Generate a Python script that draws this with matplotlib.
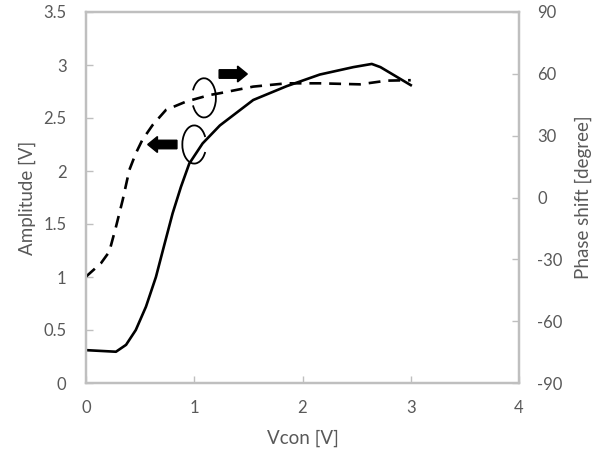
import matplotlib
matplotlib.use("Agg")
import matplotlib.pyplot as plt
from matplotlib.patches import Arc, FancyArrow

# Data
vcon_amp = [0.0, 0.277, 0.37, 0.46, 0.554, 0.646, 0.72, 0.80, 0.877, 0.954, 1.077, 1.237,
            1.545, 1.853, 2.16, 2.47, 2.64, 2.72, 3.0]
amplitude = [0.31, 0.295, 0.36, 0.50, 0.72, 1.00, 1.29, 1.60, 1.85, 2.07, 2.26, 2.43,
             2.67, 2.80, 2.91, 2.98, 3.01, 2.98, 2.81]
vcon_ph = [0.0, 0.138, 0.215, 0.277, 0.339, 0.40, 0.46, 0.52, 0.616, 0.739, 0.923, 1.14,
           1.237, 1.545, 1.853, 2.16, 2.53, 2.78, 3.0]
phase = [-38.4, -31.9, -26.3, -14.2, -1.2, 13.3, 21.4, 27.9, 35.2, 42.5, 46.5, 49.7,
         50.6, 53.8, 55.4, 55.4, 54.9, 56.7, 56.9]

xticks = [0, 1, 2, 3, 4]
yticks_l = [0, 0.5, 1, 1.5, 2, 2.5, 3, 3.5]
ylabels_l = ['0', '0.5', '1', '1.5', '2', '2.5', '3', '3.5']
yticks_r = [-90, -60, -30, 0, 30, 60, 90]

plt.rcParams['font.family'] = ['Lato', 'DejaVu Sans']
gray = '#595959'
frame = '#bfbfbf'

fig = plt.figure(figsize=(6.03, 4.57), dpi=100)
ax = fig.add_axes([86/603, 1 - 383/457, (519-86)/603, (383-12)/457])
ax2 = ax.twinx()

ax.plot(vcon_amp, amplitude, color='black', lw=1.9, solid_joinstyle='round')
ax2.plot(vcon_ph, phase, color='black', lw=1.9, dashes=(4.5, 3.0), dash_joinstyle='round')

ax.set_xlim(0, 4)
ax.set_ylim(0, 3.5)
ax2.set_ylim(-90, 90)
ax.set_xticks(xticks)
ax.set_xticklabels([str(t) for t in xticks])
ax.set_yticks(yticks_l)
ax.set_yticklabels(ylabels_l)
ax2.set_yticks(yticks_r)
ax2.set_yticklabels([str(t) for t in yticks_r])

for a in (ax, ax2):
    for s in a.spines.values():
        s.set_color(frame)
        s.set_linewidth(1.6)
    a.tick_params(direction='in', length=5, width=1, color=frame, labelcolor=gray, labelsize=12)
ax.tick_params(axis='y', pad=14)
ax2.tick_params(axis='y', pad=13)
ax.tick_params(axis='x', pad=12)

ax.set_xlabel('Vcon [V]', color=gray, fontsize=13.5, labelpad=10)
ax.set_ylabel('Amplitude [V]', color=gray, fontsize=13.5, labelpad=5)
ax2.set_ylabel('Phase shift [degree]', color=gray, fontsize=13.5, labelpad=9)

# annotations: ellipses (arcs) and arrows
ax.add_patch(Arc((1.09, 2.69), 0.22, 0.37, theta1=215, theta2=145, color='black', lw=1.3))
ax.add_patch(Arc((1.0, 2.25), 0.22, 0.36, theta1=35, theta2=325, color='black', lw=1.3))
ax.add_patch(FancyArrow(1.23, 2.915, 0.26, 0, width=0.08, head_width=0.15, head_length=0.09,
                        length_includes_head=True, color='black'))
ax.add_patch(FancyArrow(0.84, 2.25, -0.27, 0, width=0.08, head_width=0.15, head_length=0.09,
                        length_includes_head=True, color='black'))

fig.savefig('out.png', dpi=100)
